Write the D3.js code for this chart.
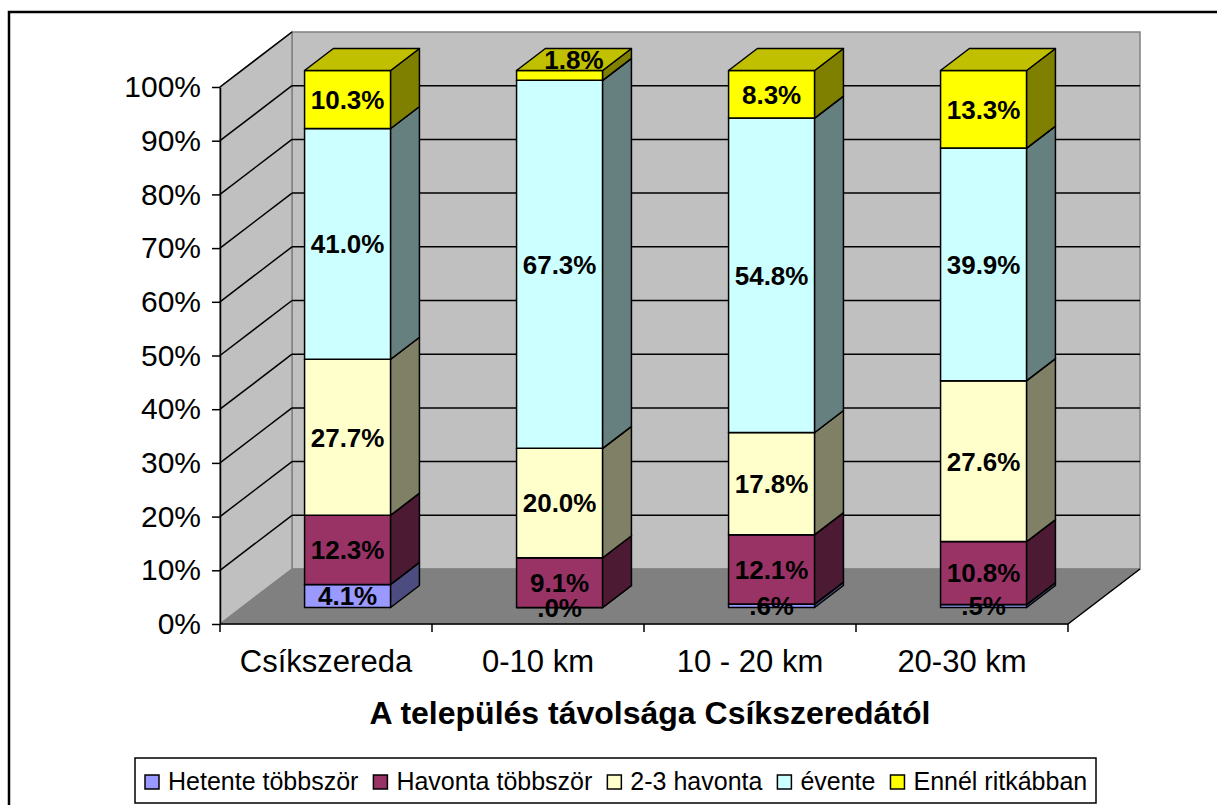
<!DOCTYPE html>
<meta charset="utf-8">
<head>
  <style>
    body { margin: 0; background: #fff; }
    text { font-family: "Liberation Sans", Arial, sans-serif; }
  </style>
  <script src="https://cdn.jsdelivr.net/npm/d3@7"></script>
</head>
<body>
<script>
  // data (values are the printed labels)
  const categories = ["Csíkszereda", "0-10 km", "10 - 20 km", "20-30 km"];
  const seriesNames = ["Hetente többször", "Havonta többször", "2-3 havonta", "évente", "Ennél ritkábban"];
  const hetente   = [4.1, 0.0, 0.6, 0.5];
  const havonta   = [12.3, 9.1, 12.1, 10.8];
  const havonta23 = [27.7, 20.0, 17.8, 27.6];
  const evente    = [41.0, 67.3, 54.8, 39.9];
  const ritkabban = [10.3, 1.8, 8.3, 13.3];
  const yTicks = [0, 0.1, 0.2, 0.3, 0.4, 0.5, 0.6, 0.7, 0.8, 0.9, 1];

  const frontCol = ["#9999FF", "#993366", "#FFFFCC", "#CCFFFF", "#FFFF00"];
  const sideCol  = ["#4C4C80", "#4D1A33", "#808066", "#668080", "#808000"];
  const topCol   = ["#7373BF", "#732650", "#C0C099", "#99C0C0", "#C0C000"];

  const cols = [hetente, havonta, havonta23, evente, ritkabban];
  const rows = categories.map(function(c, i) {
    const r = {cat: c};
    seriesNames.forEach(function(s, j) { r[s] = cols[j][i]; });
    return r;
  });

  const W = 1217, H = 805;
  const DX = 72, DY = -55;       // full depth of the floor
  const f0 = 0.3, f1 = 0.7;      // bar depth range
  const font = '"Liberation Sans", Arial, sans-serif';

  const svg = d3.select("body").append("svg")
    .attr("width", W).attr("height", H);

  const x = d3.scaleBand().domain(categories)
    .range([220, 1068]).paddingInner(0.594).paddingOuter(0.297);
  const y = d3.scaleLinear().domain([0, 1]).range([624, 87]);

  // outer chart border
  svg.append("rect")
    .attr("x", 9).attr("y", 12).attr("width", 1400).attr("height", 1000)
    .attr("fill", "none").attr("stroke", "#000").attr("stroke-width", 2.5);

  const x0 = x.range()[0], x1 = x.range()[1];
  const pts = function(a) { return a.map(function(p) { return p.join(","); }).join(" "); };

  // walls and floor
  svg.append("polygon")
    .attr("points", pts([[x0 + DX, y(1) + DY], [x1 + DX, y(1) + DY], [x1 + DX, y(0) + DY], [x0 + DX, y(0) + DY]]))
    .attr("fill", "#C0C0C0").attr("stroke", "#808080").attr("stroke-width", 1.5);
  svg.append("polygon")
    .attr("points", pts([[x0, y(1)], [x0 + DX, y(1) + DY], [x0 + DX, y(0) + DY], [x0, y(0)]]))
    .attr("fill", "#C0C0C0").attr("stroke", "#808080").attr("stroke-width", 1.5);

  // gridlines on back and side walls
  const grid = svg.append("g").attr("stroke", "#000").attr("stroke-width", 1.5);
  grid.selectAll(".gb").data(yTicks.slice(1, -1)).join("line")
    .attr("x1", x0 + DX).attr("x2", x1 + DX)
    .attr("y1", function(d) { return y(d) + DY; }).attr("y2", function(d) { return y(d) + DY; });
  grid.selectAll(".gs").data(yTicks.slice(1)).join("line")
    .attr("x1", x0).attr("x2", x0 + DX)
    .attr("y1", function(d) { return y(d); }).attr("y2", function(d) { return y(d) + DY; });

  svg.append("polygon")
    .attr("points", pts([[x0, y(0)], [x0 + DX, y(0) + DY], [x1 + DX, y(0) + DY], [x1, y(0)]]))
    .attr("fill", "#808080").attr("stroke", "#808080").attr("stroke-width", 1);
  svg.append("line")
    .attr("x1", x1).attr("y1", y(0)).attr("x2", x1 + DX).attr("y2", y(0) + DY)
    .attr("stroke", "#000").attr("stroke-width", 1.5);

  // bars
  const stack = d3.stack().keys(seriesNames).offset(d3.stackOffsetExpand);
  const series = stack(rows);
  const bw = x.bandwidth();
  const bdx = (f1 - f0) * DX, bdy = (f1 - f0) * DY;

  const barsG = svg.append("g");
  const labels = [];
  categories.forEach(function(c, i) {
    const bx = x(c) + f0 * DX;
    series.forEach(function(s, j) {
      const yb = y(s[i][0]) + f0 * DY, yt = y(s[i][1]) + f0 * DY;
      const g = barsG.append("g").attr("stroke", "#000").attr("stroke-width", 1.5).attr("stroke-linejoin", "round");
      g.append("polygon").attr("fill", frontCol[j])
        .attr("points", pts([[bx, yt], [bx + bw, yt], [bx + bw, yb], [bx, yb]]));
      g.append("polygon").attr("fill", sideCol[j])
        .attr("points", pts([[bx + bw, yt], [bx + bw + bdx, yt + bdy], [bx + bw + bdx, yb + bdy], [bx + bw, yb]]));
      g.append("polygon").attr("fill", topCol[j])
        .attr("points", pts([[bx, yt], [bx + bdx, yt + bdy], [bx + bw + bdx, yt + bdy], [bx + bw, yt]]));
      const v = s[i].data[s.key];
      let lx = bx + bw / 2, ly = (yb + yt) / 2;
      if (j === seriesNames.length - 1 && yb - yt < 20) { lx += bdx / 2; ly = yt + bdy / 2; }
      let t = v.toFixed(1) + "%";
      if (t.startsWith("0.")) t = t.slice(1);
      labels.push({x: lx, y: ly, t: t});
    });
  });

  svg.append("g").selectAll("text").data(labels).join("text")
    .attr("x", function(d) { return d.x; }).attr("y", function(d) { return d.y; })
    .attr("dy", "0.36em").attr("text-anchor", "middle")
    .style("font", "bold 26px " + font).attr("fill", "#000")
    .text(function(d) { return d.t; });

  // value axis
  const yAxis = svg.append("g").attr("transform", "translate(" + x0 + ",0)")
    .call(d3.axisLeft(y).tickValues(yTicks).tickFormat(d3.format(".0%")).tickSize(8).tickSizeOuter(0).tickPadding(11));
  yAxis.selectAll("line,path").attr("stroke", "#000").attr("stroke-width", 1.5);
  yAxis.selectAll("text").style("font", "30px " + font).attr("fill", "#000");

  // category axis
  svg.append("line").attr("x1", x0).attr("x2", x1).attr("y1", y(0)).attr("y2", y(0))
    .attr("stroke", "#000").attr("stroke-width", 1.5);
  svg.append("g").selectAll("line").data(d3.range(categories.length + 1)).join("line")
    .attr("x1", function(d) { return x0 + d * x.step(); }).attr("x2", function(d) { return x0 + d * x.step(); })
    .attr("y1", y(0)).attr("y2", y(0) + 8)
    .attr("stroke", "#000").attr("stroke-width", 1.5);
  svg.append("g").selectAll("text").data(categories).join("text")
    .attr("x", function(d) { return x(d) + bw / 2; }).attr("y", 672)
    .attr("text-anchor", "middle").style("font", "31px " + font)
    .text(function(d) { return d; });

  svg.append("text").attr("x", 650).attr("y", 724).attr("text-anchor", "middle")
    .style("font", "bold 32px " + font)
    .text("A település távolsága Csíkszeredától");

  // legend
  svg.append("rect").attr("x", 135).attr("y", 758).attr("width", 961).attr("height", 45)
    .attr("fill", "#fff").attr("stroke", "#000").attr("stroke-width", 1.5);
  let lx = 145;
  seriesNames.forEach(function(s, j) {
    svg.append("rect").attr("x", lx).attr("y", 775).attr("width", 14).attr("height", 14)
      .attr("fill", frontCol[j]).attr("stroke", "#000").attr("stroke-width", 1.5);
    const t = svg.append("text").attr("x", lx + 23).attr("y", 790)
      .style("font", "25px " + font).text(s);
    lx += 23 + t.node().getComputedTextLength() + 15;
  });
</script>
</body>
</html>
